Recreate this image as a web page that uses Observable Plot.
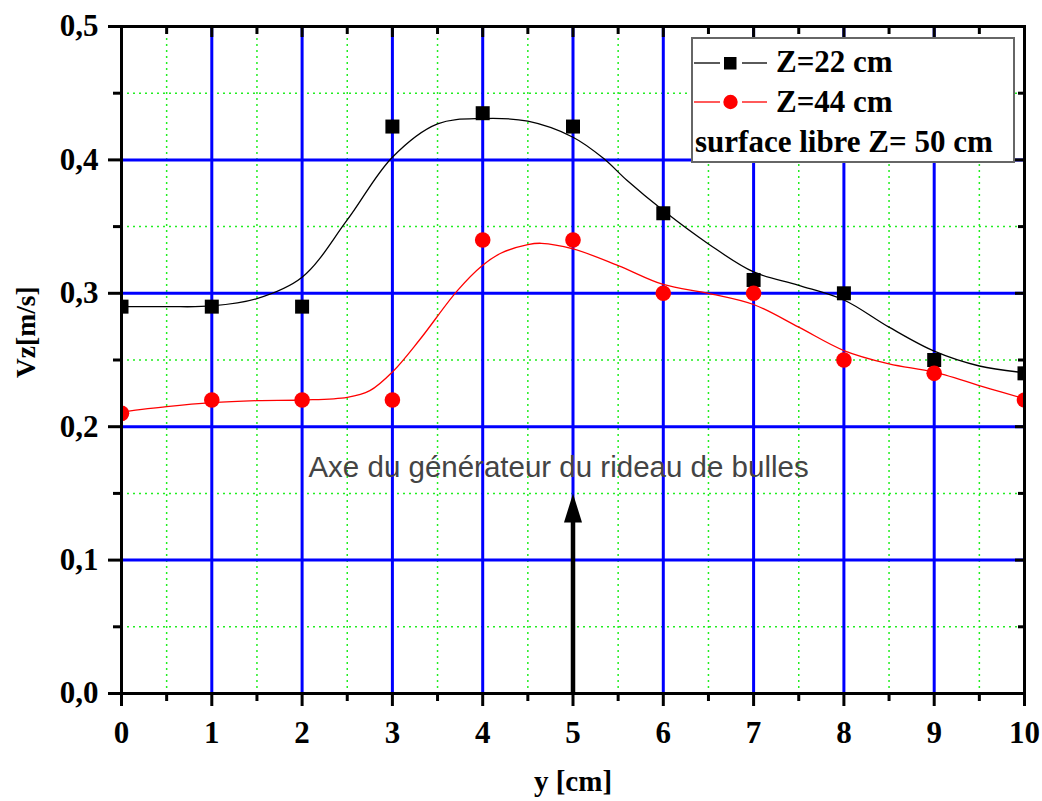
<!DOCTYPE html>
<html>
<head>
<meta charset="utf-8">
<script src="https://cdn.jsdelivr.net/npm/d3@7"></script>
<script src="https://cdn.jsdelivr.net/npm/@observablehq/plot@0.6"></script>
<style>
  html, body { margin: 0; padding: 0; background: #fff; }
  #wrap { position: relative; width: 1042px; height: 801px; }
  #legend { position: absolute; left: 691px; top: 37px; }
</style>
</head>
<body>
<div id="wrap"></div>
<script>
// ---- data ----
const yPos = [0, 1, 2, 3, 4, 5, 6, 7, 8, 9, 10];
const vz22 = [0.29, 0.29, 0.29, 0.425, 0.435, 0.425, 0.36, 0.31, 0.30, 0.25, 0.24];
const vz44 = [0.21, 0.22, 0.22, 0.22, 0.34, 0.34, 0.30, 0.30, 0.25, 0.24, 0.22];

// smoothed fit curves
const fit22X = [0, 0.5, 1, 1.5, 2, 2.5, 3, 3.5, 4, 4.5, 5, 5.34, 5.6, 6, 6.5, 7, 7.5, 8, 8.5, 9, 9.5, 10];
const fit22Y = [0.290, 0.290, 0.2905, 0.296, 0.312, 0.355, 0.402, 0.427, 0.431, 0.429, 0.417, 0.401, 0.3845, 0.362, 0.337, 0.316, 0.306, 0.295, 0.2746, 0.2566, 0.2455, 0.2405];
const fit44X = [0, 0.5, 1, 1.5, 2, 2.5, 2.75, 3, 3.3, 3.72, 4, 4.2, 4.5, 4.65, 5, 5.5, 6, 6.5, 7, 7.5, 8, 8.5, 9, 9.62, 10];
const fit44Y = [0.211, 0.215, 0.218, 0.2195, 0.220, 0.222, 0.227, 0.241, 0.265, 0.302, 0.321, 0.330, 0.3365, 0.3375, 0.3333, 0.3208, 0.3066, 0.300, 0.2916, 0.2746, 0.2571, 0.2471, 0.2409, 0.2284, 0.221];

const xTicks = [0, 1, 2, 3, 4, 5, 6, 7, 8, 9, 10];
const xMinor = [0.5, 1.5, 2.5, 3.5, 4.5, 5.5, 6.5, 7.5, 8.5, 9.5];
const yTicks = [0, 0.1, 0.2, 0.3, 0.4, 0.5];
const yMinor = [0.05, 0.15, 0.25, 0.35, 0.45];

const seriesLabels = ["Z=22 cm", "Z=44 cm"];
const noteLabel = "surface libre Z= 50 cm";
const annotation = "Axe du générateur du rideau de bulles";
const arrowFrom = 0, arrowTo = 0.15, arrowX = 5;
const annotX = 4.84, annotY = 0.162;

// tables built from arrays
const pts22 = yPos.map((x, i) => ({x, y: vz22[i]}));
const pts44 = yPos.map((x, i) => ({x, y: vz44[i]}));
const fit22 = fit22X.map((x, i) => ({x, y: fit22Y[i]}));
const fit44 = fit44X.map((x, i) => ({x, y: fit44Y[i]}));

const fmtY = d => d.toFixed(1).replace(".", ",");
const serif = "'Liberation Serif', 'Times New Roman', serif";

const arrowHead = {
  draw(context) {
    context.moveTo(0, 0);
    context.lineTo(9, 29);
    context.lineTo(-9, 29);
    context.closePath();
  }
};

const chart = Plot.plot({
  width: 1042,
  height: 801,
  marginLeft: 121,
  marginRight: 18,
  marginTop: 26,
  marginBottom: 108,
  style: {fontFamily: serif, fontWeight: "bold", fontSize: "31px", color: "black", background: "white"},
  x: {domain: [0, 10]},
  y: {domain: [0, 0.5]},
  marks: [
    // minor dotted green grid
    Plot.gridX(xMinor, {stroke: "#22ee22", strokeOpacity: 1, strokeWidth: 1.5, strokeDasharray: "2,4"}),
    Plot.gridY(yMinor, {stroke: "#22ee22", strokeOpacity: 1, strokeWidth: 1.5, strokeDasharray: "2,4"}),
    // major blue grid
    Plot.gridX(xTicks, {stroke: "#0000ff", strokeOpacity: 1, strokeWidth: 3}),
    Plot.gridY(yTicks, {stroke: "#0000ff", strokeOpacity: 1, strokeWidth: 3}),
    // annotation
    Plot.text([annotation], {x: annotX, y: annotY, text: d => d, fontFamily: "'Liberation Sans', Arial, sans-serif", fontWeight: "normal", fontSize: 29.5, fill: "#444", textAnchor: "middle", lineAnchor: "bottom"}),
    Plot.ruleX([arrowX], {y1: arrowFrom, y2: arrowTo - 0.02, stroke: "black", strokeWidth: 4.5}),
    Plot.dot([arrowX], {x: d => d, y: arrowTo, symbol: arrowHead, fill: "black", stroke: "none"}),
    // fit curves
    Plot.line(fit22, {x: "x", y: "y", curve: "catmull-rom", stroke: "black", strokeWidth: 1.3}),
    Plot.line(fit44, {x: "x", y: "y", curve: "catmull-rom", stroke: "#ff0000", strokeWidth: 1.3}),
    // data points
    Plot.dot(pts22, {x: "x", y: "y", symbol: "square", r: 7.9, fill: "black", stroke: "none", clip: true}),
    Plot.dot(pts44, {x: "x", y: "y", symbol: "circle", r: 7.8, fill: "#ff0000", stroke: "none", clip: true}),
    // frame
    Plot.frame({stroke: "black", strokeWidth: 3}),
    // axes: bottom and left (outward), top and right (inward)
    Plot.axisX(xTicks, {anchor: "bottom", tickSize: 13, tickPadding: 14, strokeWidth: 3, tickFormat: d => String(d), label: null}),
    Plot.axisX(xMinor, {anchor: "bottom", tickSize: 8, strokeWidth: 3, tickFormat: () => "", label: null}),
    Plot.axisX(xTicks, {anchor: "top", tickSize: -10, strokeWidth: 3, tickFormat: () => "", label: null}),
    Plot.axisX(xMinor, {anchor: "top", tickSize: -7, strokeWidth: 3, tickFormat: () => "", label: null}),
    Plot.axisY(yTicks, {anchor: "left", tickSize: 13, tickPadding: 10, strokeWidth: 3, tickFormat: fmtY, label: null}),
    Plot.axisY(yMinor, {anchor: "left", tickSize: 8, strokeWidth: 3, tickFormat: () => "", label: null}),
    Plot.axisY(yTicks, {anchor: "right", tickSize: -10, strokeWidth: 3, tickFormat: () => "", label: null}),
    Plot.axisY(yMinor, {anchor: "right", tickSize: -7, strokeWidth: 3, tickFormat: () => "", label: null}),
    // axis titles
    Plot.text(["y [cm]"], {frameAnchor: "bottom", text: d => d, dy: 97, lineAnchor: "bottom", fontSize: 29, fontWeight: "bold"}),
    Plot.text(["Vz[m/s]"], {frameAnchor: "left", text: d => d, dx: -87, dy: 18, rotate: -90, lineAnchor: "bottom", fontSize: 27.5, fontWeight: "bold"})
  ]
});

const wrap = document.getElementById("wrap");
wrap.appendChild(chart);

// legend
const ns = "http://www.w3.org/2000/svg";
const leg = document.createElementNS(ns, "svg");
leg.setAttribute("id", "legend");
leg.setAttribute("width", 324);
leg.setAttribute("height", 126);
leg.innerHTML = `
  <rect x="1" y="1" width="322" height="124" fill="white" stroke="#666" stroke-width="2"/>
  <g stroke="black" stroke-width="1.3">
    <line x1="3" y1="26" x2="29" y2="26"/><line x1="51" y1="26" x2="76" y2="26"/>
  </g>
  <rect x="33" y="20" width="12.5" height="12.5" fill="black"/>
  <g stroke="#ff0000" stroke-width="1.3">
    <line x1="3" y1="65" x2="29" y2="65"/><line x1="51" y1="65" x2="76" y2="65"/>
  </g>
  <circle cx="39.5" cy="65" r="7.2" fill="#ff0000"/>
  <g font-family="${serif.replace(/'/g, "")}" font-weight="bold" font-size="31" fill="black">
    <text x="85" y="35">${seriesLabels[0]}</text>
    <text x="85" y="75">${seriesLabels[1]}</text>
    <text x="4" y="115">${noteLabel}</text>
  </g>`;
wrap.appendChild(leg);
</script>
</body>
</html>
